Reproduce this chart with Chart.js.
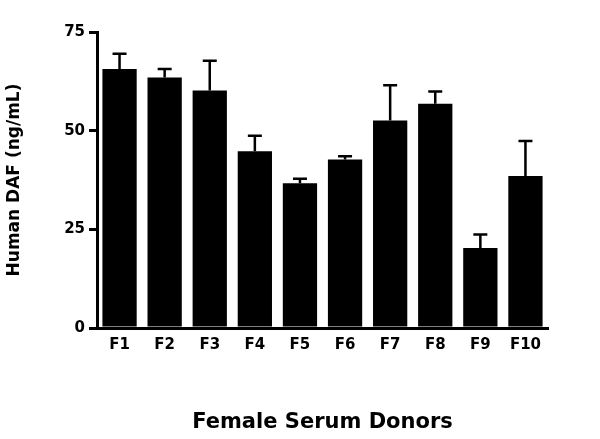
<!DOCTYPE html>
<html><head><meta charset="utf-8">
<script src="https://cdn.jsdelivr.net/npm/chart.js@4"></script>
<style>html,body{margin:0;background:#fff}#w{width:600px;height:439px}</style>
</head><body><div id="w"><canvas id="c"></canvas></div>
<script>
const categories=['F1','F2','F3','F4','F5','F6','F7','F8','F9','F10'];
const means=[65.6,63.5,60.2,44.8,36.7,42.7,52.6,56.8,20.3,38.5];
const errTops=[69.5,65.6,67.7,48.7,37.8,43.5,61.5,59.9,23.7,47.4];
const yTicks=[0,25,50,75];
const F='"DejaVu Sans", sans-serif';
const errPlugin={id:'err',afterDatasetsDraw(ch){
  const ctx=ch.ctx,y=ch.scales.y,meta=ch.getDatasetMeta(0);
  ctx.save();ctx.strokeStyle='#000';ctx.lineWidth=2.5;
  meta.data.forEach((b,i)=>{
    const x=b.x,y0=y.getPixelForValue(means[i]),y1=y.getPixelForValue(errTops[i]);
    ctx.beginPath();ctx.moveTo(x,y0);ctx.lineTo(x,y1);ctx.moveTo(x-7,y1);ctx.lineTo(x+7,y1);ctx.stroke();
  });ctx.restore();}};
new Chart(document.getElementById('c'),{type:'bar',
data:{labels:categories,datasets:[{data:means,backgroundColor:'#000',borderWidth:0,barPercentage:0.76,categoryPercentage:1}]},
options:{responsive:true,maintainAspectRatio:false,animation:false,
layout:{padding:{top:32,right:52,left:0,bottom:0}},
plugins:{legend:{display:false},tooltip:{enabled:false}},
scales:{
 x:{grid:{display:false,drawTicks:false},border:{color:'#000',width:3},
  ticks:{color:'#000',font:{family:F,weight:'bold',size:15},padding:8},
  title:{display:true,text:'Female Serum Donors',color:'#000',font:{family:F,weight:'bold',size:21},padding:{top:22}},
  afterFit(s){s.height=111;}},
 y:{min:0,max:75,afterBuildTicks(s){s.ticks=yTicks.map(v=>({value:v}));},
  grid:{display:true,drawOnChartArea:false,color:'#000',lineWidth:3,tickLength:8},border:{color:'#000',width:3},
  ticks:{color:'#000',font:{family:F,weight:'bold',size:15},padding:4},
  title:{display:true,text:'Human DAF (ng/mL)',color:'#000',font:{family:F,weight:'bold',size:17},padding:{bottom:4}},
  afterFit(s){s.width=97;}}
}},plugins:[errPlugin]});
</script></body></html>
